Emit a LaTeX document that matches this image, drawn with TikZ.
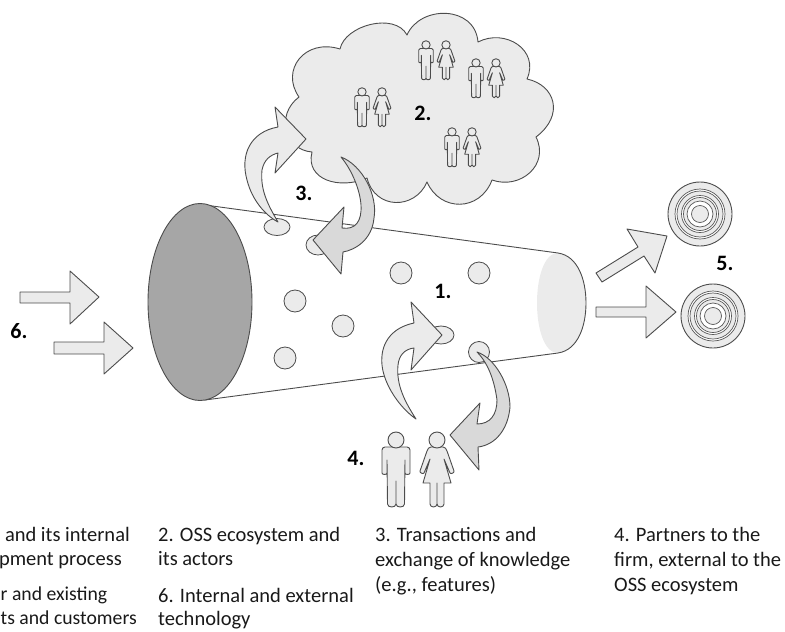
\documentclass[tikz,border=0pt]{standalone}
\usepackage{fontspec}
\setmainfont{Carlito}
\tikzset{
    shape line/.style={draw=black!70, line width=0.9pt, line join=round},
    light shape/.style={shape line, fill=black!8},
    mid shape/.style={shape line, fill=black!15},
    caption/.style={anchor=base west, inner sep=0pt, font=\fontsize{20.5}{24}\selectfont, text=black!90},
    cut caption/.style={caption, anchor=base east},
    edge caption/.style={caption, font=\fontsize{19.7}{24}\selectfont},
    number/.style={inner sep=0pt, font=\fontsize{22}{24}\selectfont\bfseries},
    hole/.style={light shape, line width=0.8pt},
    ring line/.style={draw=black!65, line width=0.7pt},
    man/.pic={
        \path[light shape] (-11,-24) -- (11,-24) to[out=0,in=90] (14,-21) -- (14,2) to[out=-90,in=-90] (9,2) -- (9,-11) -- (8.5,33) to[out=-90,in=0] (4.2,36) to[out=180,in=-90] (0,33) -- (0,10) -- (0,33) to[out=-90,in=0] (-4.2,36) to[out=180,in=-90] (-8.5,33) -- (-9,-11) -- (-9,2) to[out=-90,in=-90] (-14,2) -- (-14,-21) to[out=90,in=180] cycle;
        \path[light shape] (0,-31) circle (8);
    },
    woman/.pic={
        \path[light shape] (-6,-24) -- (6,-24) to[out=0,in=110] (10,-20) -- (17,0) to[out=-70,in=-60] (13,2) -- (7,-12) -- (14,12) -- (7,12) -- (7,33) to[out=-90,in=0] (3.5,36) to[out=180,in=-90] (0,33) -- (0,12) -- (0,33) to[out=-90,in=0] (-3.5,36) to[out=180,in=-90] (-7,33) -- (-7,12) -- (-14,12) -- (-7,-12) -- (-13,2) to[out=-120,in=-110] (-17,0) -- (-10,-20) to[out=70,in=180] cycle;
        \path[light shape] (0,-31) circle (8);
    },
    couple/.pic={
        \pic[scale=0.52] at (-10,0) {man};
        \pic[scale=0.52] at (10,0) {woman};
    },
    rings/.pic={
        \path[light shape] (0,0) circle (32);
        \path[ring line, fill=white] (0,0) circle (25);
        \path[ring line, fill=black!8] (0,0) circle (23);
        \path[ring line, fill=white] (0,0) circle (18.5);
        \path[ring line, fill=black!8] (0,0) circle (16.5);
        \path[ring line, fill=white] (0,0) circle (13);
        \path[ring line, fill=black!8] (0,0) circle (8.5);
    }
}
\begin{document}
\begin{tikzpicture}[x=1pt, y=-1pt]
    \useasboundingbox (0,0) rectangle (785,632);

    \path[light shape] (340,49) .. controls (345,25) and (395,12) .. (407,35)
        .. controls (420,5) and (475,5) .. (478,42)
        .. controls (505,28) and (540,50) .. (527,79)
        .. controls (555,85) and (565,115) .. (536,137)
        .. controls (550,165) and (520,190) .. (492,180)
        .. controls (480,212) and (440,212) .. (427,182)
        .. controls (415,210) and (375,210) .. (367,178)
        .. controls (340,190) and (305,180) .. (312,152)
        .. controls (285,150) and (275,115) .. (299,97)
        .. controls (280,70) and (305,38) .. (340,49) -- cycle;

    \path[fill=black!8] (558,253) .. controls (530,253) and (530,353) .. (558,353) .. controls (578,350) and (586,326) .. (586,303) .. controls (586,280) and (578,256) .. (558,253) -- cycle;
    \path[draw=black!70, line width=0.9pt] (205,205) -- (558,253) .. controls (578,256) and (586,280) .. (586,303) .. controls (586,326) and (578,350) .. (558,353) -- (205,400);
    \path[shape line, fill=black!35] (200,302) ellipse (52 and 98.5);

    \path[hole] (277,227) ellipse (13 and 8.5);
    \path[hole] (318,245) ellipse (12 and 10);
    \path[hole] (401,273) circle (11);
    \path[hole] (479,273) circle (11);
    \path[hole] (295,301) circle (11);
    \path[hole] (343,326) circle (11);
    \path[hole] (285,358) circle (11);
    \path[hole] (441,335) ellipse (13 and 9);
    \path[hole] (479,352) circle (10.5);

    \path[light shape] (306,139) -- (275,107) -- (278,127) .. controls (250,132) and (240,155) .. (247,180) .. controls (252,200) and (265,215) .. (278,222) .. controls (268,205) and (260,190) .. (262,170) .. controls (264,160) and (270,155) .. (278,153) -- (275,173) -- cycle;
    \path[mid shape] (341,157) .. controls (362,165) and (378,195) .. (374,218) .. controls (372,240) and (355,250) .. (343,252) -- (341,274) -- (313,240) -- (344,207) -- (342,228) .. controls (355,230) and (362,222) .. (361,205) .. controls (360,190) and (352,170) .. (341,157) -- cycle;
    \path[light shape] (442,335) -- (411,302) -- (414,323) .. controls (390,328) and (380,345) .. (382,365) .. controls (384,385) and (400,408) .. (416,419) .. controls (405,402) and (396,385) .. (398,365) .. controls (399,355) and (405,349) .. (414,348) -- (411,370) -- cycle;
    \path[mid shape] (477,352) .. controls (495,358) and (510,385) .. (510,407) .. controls (508,430) and (495,445) .. (478,447) -- (479,470) -- (450,435) -- (480,403) -- (477,424) .. controls (490,424) and (497,415) .. (497,400) .. controls (495,385) and (490,365) .. (477,352) -- cycle;

    \path[light shape] (20,292) -- (70,292) -- (70,271) -- (99,297) -- (70,324) -- (70,303) -- (20,303) -- cycle;
    \path[light shape] (54,342) -- (104,342) -- (104,322) -- (133,348) -- (104,374) -- (104,354) -- (54,354) -- cycle;
    \path[light shape] (596,273) -- (638,247) -- (627,229) -- (667,236) -- (655,273) -- (644,256) -- (602,282) -- cycle;
    \path[light shape] (596,307) -- (646,307) -- (646,286) -- (676,312) -- (646,338) -- (646,317) -- (596,317) -- cycle;

    \pic at (700,214) {rings};
    \pic at (713,316) {rings};

    \pic at (436,61) {couple};
    \pic at (486,79) {couple};
    \pic at (372,108) {couple};
    \pic at (462,148) {couple};
    \pic at (396,471) {man};
    \pic at (437,471) {woman};

    \path (423,113) node[number](num2) {2.};
    \path (304,193) node[number](num3) {3.};
    \path (443,291) node[number](num1) {1.};
    \path (356,458) node[number](num4) {4.};
    \path (725,263) node[number](num5) {5.};
    \path (19,331)  node[number](num6) {6.};

    \path (130,541) node[cut caption](cap1a) {and its internal};
    \path (122,565) node[cut caption](cap1b) {pment process};
    \path (0.5,600) node[edge caption](cap5a) {r and existing};
    \path (0.5,624) node[edge caption](cap5b) {ts and customers};
    \path (158,541) node[caption](cap2a) {2. OSS ecosystem and};
    \path (158,565) node[caption](cap2b) {its actors};
    \path (158,602) node[caption](cap6a) {6. Internal and external};
    \path (158,625) node[caption](cap6b) {technology};
    \path (375,541) node[caption](cap3a) {3. Transactions and};
    \path (375,566) node[caption](cap3b) {exchange of knowledge};
    \path (375,591) node[caption](cap3c) {(e.g., features)};
    \path (614,541) node[caption](cap4a) {4. Partners to the};
    \path (614,566) node[caption](cap4b) {firm, external to the};
    \path (614,591) node[caption](cap4c) {OSS ecosystem};
\end{tikzpicture}
\end{document}
